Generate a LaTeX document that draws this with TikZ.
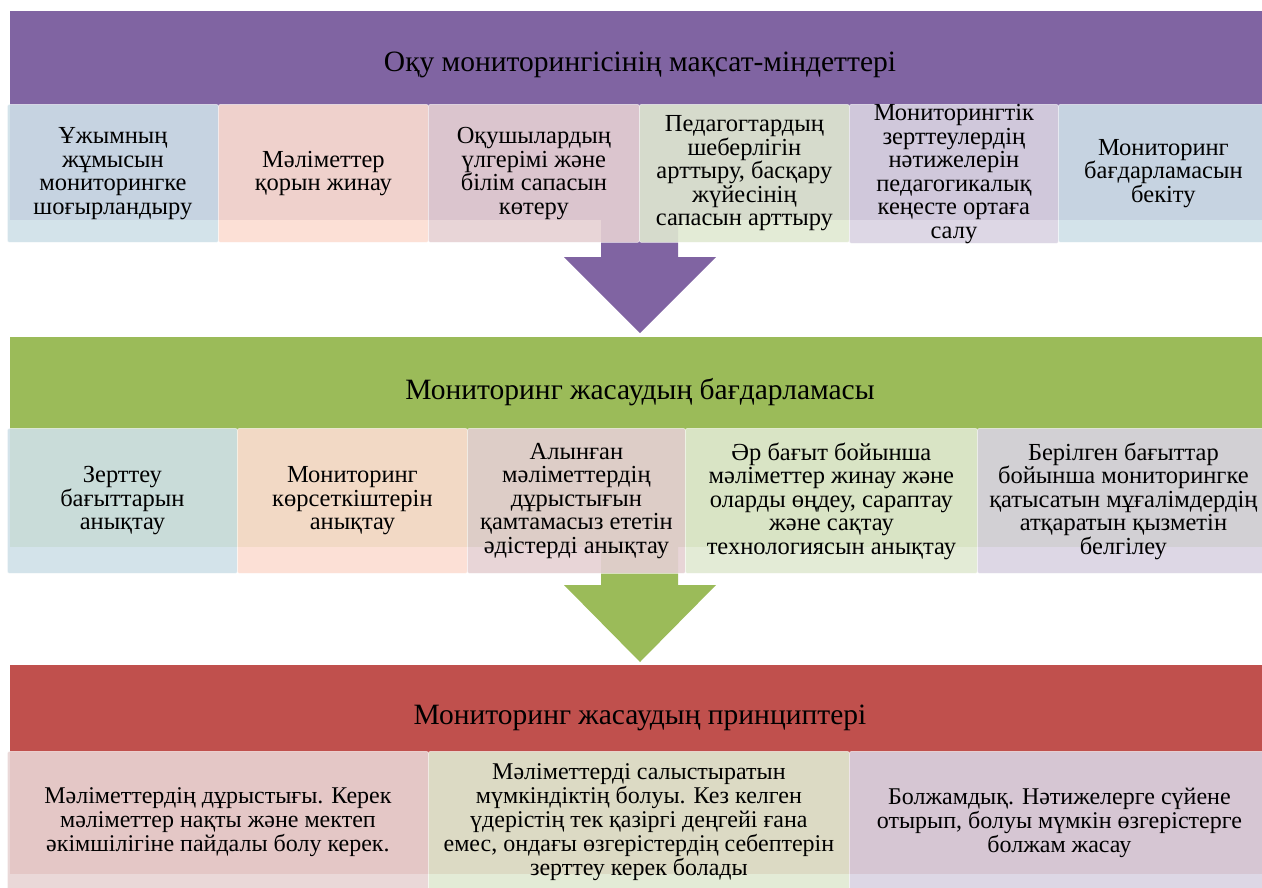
\documentclass[tikz,border=0pt]{standalone}
\usepackage{fontspec}
\setmainfont{Liberation Serif}
\definecolor{bandP}{HTML}{8064A2}
\definecolor{bandG}{HTML}{9BBB59}
\definecolor{bandR}{HTML}{C0504D}
\definecolor{tBlue}{RGB}{206,224,232}
\definecolor{tOrange}{RGB}{252,221,209}
\definecolor{tRose}{RGB}{229,208,211}
\definecolor{tGreen}{RGB}{224,233,209}
\definecolor{tLav}{RGB}{217,211,226}
\definecolor{tRed}{RGB}{232,212,212}
\begin{document}
\begin{tikzpicture}[x=1pt,y=-1pt,
  band/.style={fill=#1, draw=none, anchor=north west, inner sep=0pt, minimum width=1252pt},
  title/.style={font=\fontsize{29.5}{31}\selectfont, text=black},
  sub/.style={fill=#1, fill opacity=0.9, text opacity=1, draw=white, draw opacity=0.5,
    line width=0.8pt, rounded corners=2pt, anchor=north west, inner sep=0pt,
    align=center, font=\fontsize{24.5}{23.5}\selectfont},
  subbig/.style={sub=#1, font=\fontsize{24}{24}\selectfont}]
\useasboundingbox (0,0) rectangle (1262,887);
\clip (0,0) rectangle (1262,887);
% ---------- row 1 ----------
\node[band=bandP, minimum height=209pt] (b1) at (10,11) {};
\fill[bandP] (601,215) -- (678,215) -- (678,257) -- (716,257) -- (640,333) -- (564,257) -- (601,257) -- cycle;
\node[title] (t1) at (640,65) {Оқу мониторингісінің мақсат-міндеттері};
\node[sub=tBlue, minimum width=211pt, minimum height=138pt] (r1a) at (7,104) {Ұжымның\\жұмысын\\мониторингке\\шоғырландыру};
\node[sub=tOrange, minimum width=210pt, minimum height=138pt] (r1b) at (218,104) {Мәліметтер\\қорын жинау};
\node[sub=tRose, minimum width=211pt, minimum height=138pt] (r1c) at (428,104) {Оқушылардың\\үлгерімі және\\білім сапасын\\көтеру};
\node[sub=tGreen, minimum width=210pt, minimum height=138pt] (r1d) at (639,104) {Педагогтардың\\шеберлігін\\арттыру, басқару\\жүйесінің\\сапасын арттыру};
\node[sub=tLav, minimum width=209pt, minimum height=138pt] (r1e) at (849,104) {Мониторингтік\\зерттеулердің\\нәтижелерін\\педагогикалық\\кеңесте ортаға\\салу};
\node[sub=tBlue, minimum width=210pt, minimum height=138pt] (r1f) at (1058,104) {Мониторинг\\бағдарламасын\\бекіту};
% ---------- row 2 ----------
\node[band=bandG, minimum height=210pt] (b2) at (10,337) {};
\fill[bandG] (601,540) -- (678,540) -- (678,585) -- (716,585) -- (640,662) -- (564,585) -- (601,585) -- cycle;
\node[title] (t2) at (640,392) {Мониторинг жасаудың бағдарламасы};
\node[sub=tBlue, minimum width=230pt, minimum height=145pt] (r2a) at (7,428) {Зерттеу\\бағыттарын\\анықтау};
\node[sub=tOrange, minimum width=230pt, minimum height=145pt] (r2b) at (237,428) {Мониторинг\\көрсеткіштерін\\анықтау};
\node[sub=tRose, minimum width=218pt, minimum height=145pt] (r2c) at (467,428) {Алынған\\мәліметтердің\\дұрыстығын\\қамтамасыз ететін\\әдістерді анықтау};
\node[sub=tGreen, minimum width=292pt, minimum height=145pt] (r2d) at (685,428) {Әр бағыт бойынша\\мәліметтер жинау және\\оларды өңдеу, сараптау\\және сақтау\\технологиясын анықтау};
\node[sub=tLav, minimum width=292pt, minimum height=145pt] (r2e) at (977,428) {Берілген бағыттар\\бойынша мониторингке\\қатысатын мұғалімдердің\\атқаратын қызметін\\белгілеу};
% ---------- row 3 ----------
\node[band=bandR, minimum height=209pt] (b3) at (10,665) {};
\node[title] (t3) at (640,718) {Мониторинг жасаудың принциптері};
\node[subbig=tRed, minimum width=421pt, minimum height=142pt] (r3a) at (7,751) {Мәліметтердің дұрыстығы. Керек\\мәліметтер нақты және мектеп\\әкімшілігіне пайдалы болу керек.};
\node[subbig=tGreen, minimum width=421pt, minimum height=142pt] (r3b) at (428,751) {Мәліметтерді салыстыратын\\мүмкіндіктің болуы. Кез келген\\үдерістің тек қазіргі деңгейі ғана\\емес, ондағы өзгерістердің себептерін\\зерттеу керек болады};
\node[subbig=tLav, minimum width=420pt, minimum height=142pt] (r3c) at (849,751) {Болжамдық. Нәтижелерге сүйене\\отырып, болуы мүмкін өзгерістерге\\болжам жасау};
\end{tikzpicture}
\end{document}
